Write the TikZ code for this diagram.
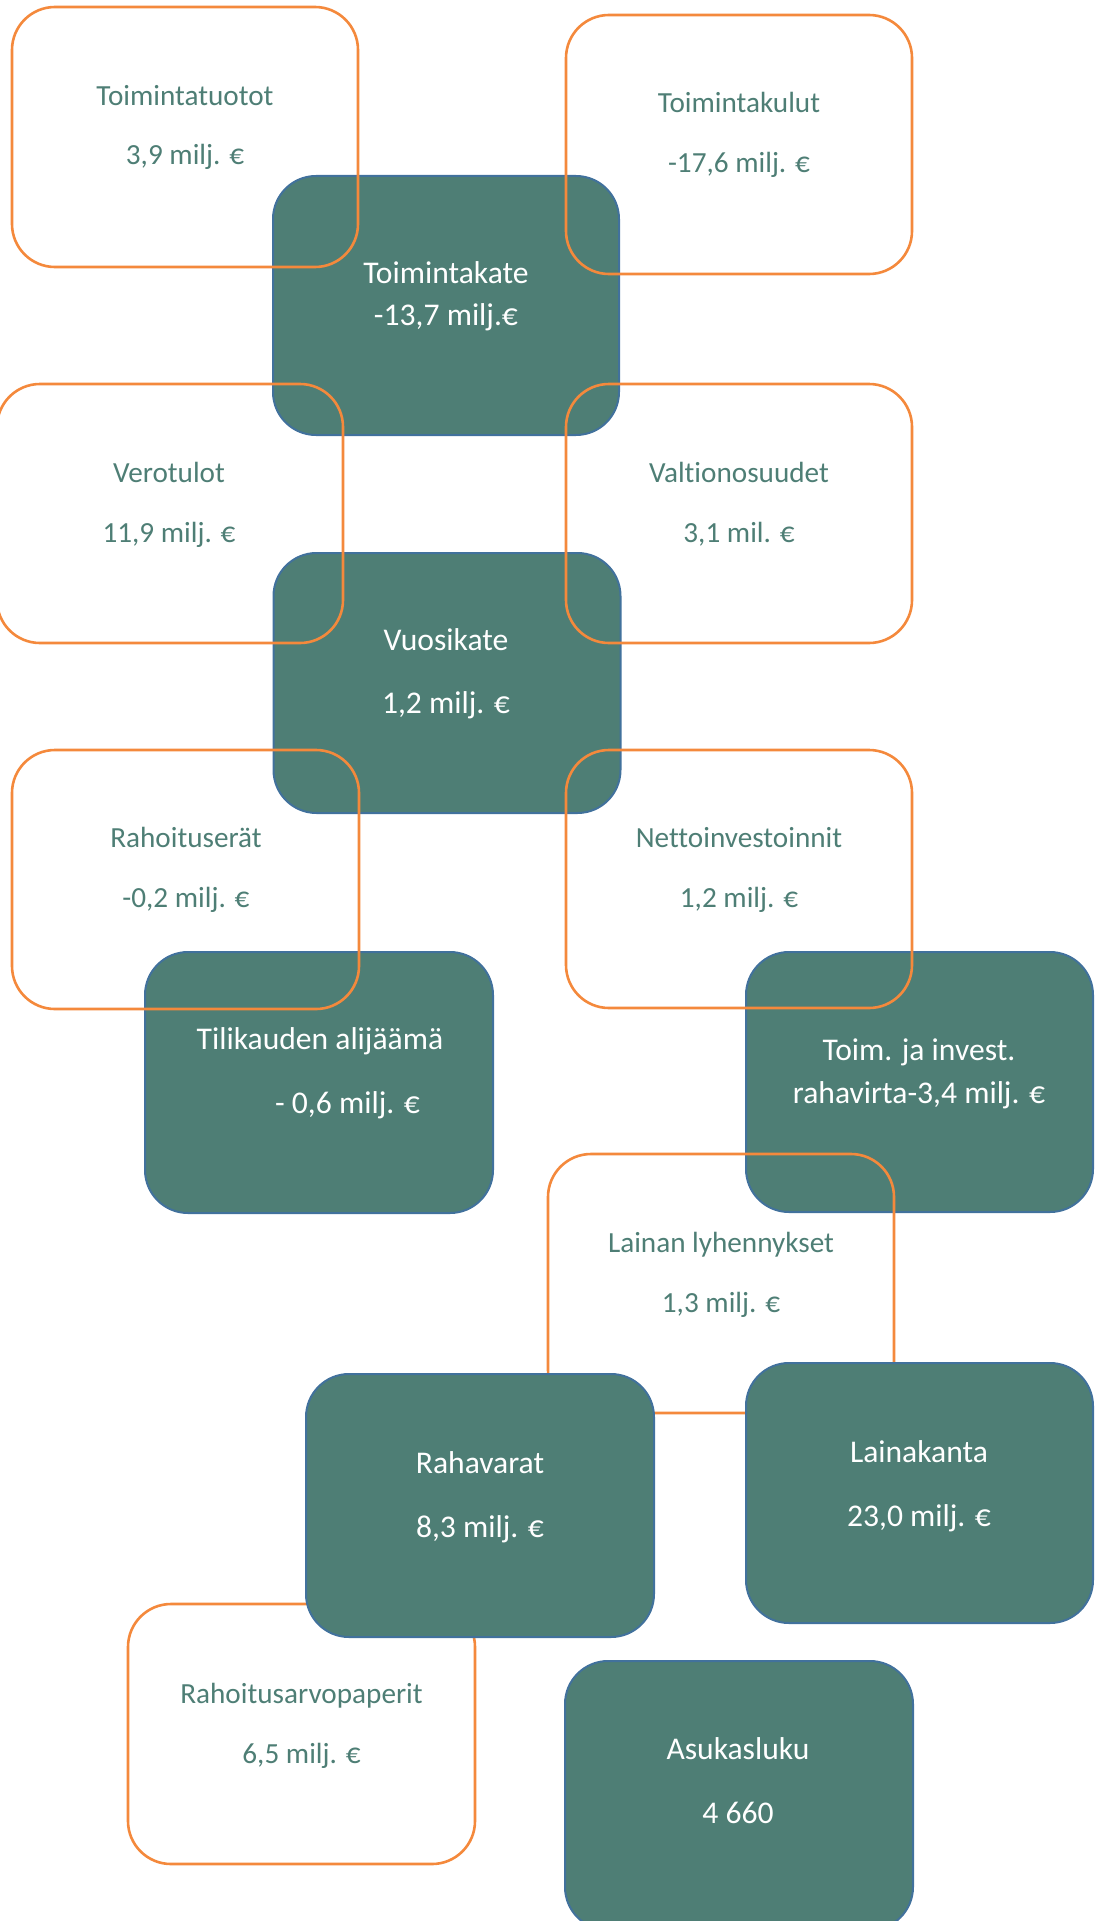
\documentclass[tikz,border=0pt]{standalone}
\usepackage{fontspec}
\setmainfont{Carlito}[Ligatures={NoCommon,NoRare,NoDiscretionary}]
\definecolor{tealfill}{HTML}{4E7E75}
\definecolor{tealborder}{HTML}{41719C}
\definecolor{orangeline}{HTML}{F4893C}
\definecolor{tealtext}{HTML}{4E7E75}
\tikzset{
  darkbox/.style={rectangle, rounded corners=43pt, fill=tealfill, draw=tealborder, line width=2pt, inner sep=0pt, outer sep=0pt},
  orangebox/.style={rectangle, rounded corners=43pt, draw=orangeline, line width=2.6pt, inner sep=0pt, outer sep=0pt},
  sz/.style 2 args={minimum width=#1pt, minimum height=#2pt},
  otext/.style={anchor=base, text=tealtext, font=\fontsize{29.2}{35}\selectfont, inner sep=0pt},
  wtext/.style={anchor=base, text=white, font=\fontsize{31.6}{38}\selectfont, inner sep=0pt},
}
\begin{document}
\begin{tikzpicture}[x=1pt, y=-1pt]
\useasboundingbox (0,0) rectangle (1096,1921);
% dark boxes underneath the orange outlines
\node[darkbox, sz={346}{259}] (kate) at (446,305.5) {};
\node[darkbox, sz={347}{260}] (vuosi) at (447,683) {};
\node[darkbox, sz={348}{261}] (tili) at (319,1082.5) {};
\node[darkbox, sz={347}{260}] (rahav) at (919.5,1082) {};
\node[darkbox, sz={348}{269}] (asuk) at (739,1795.5) {};
% orange outlined boxes
\node[orangebox, sz={346}{260}] (tuotot) at (185,137) {};
\node[orangebox, sz={346}{259}] (kulut) at (739,144.5) {};
\node[orangebox, sz={346}{259}] (vero) at (170,513.5) {};
\node[orangebox, sz={346}{259}] (valtio) at (739,513.5) {};
\node[orangebox, sz={347}{259}] (rahoit) at (185.5,879.5) {};
\node[orangebox, sz={346}{258}] (netto) at (739,879) {};
\node[orangebox, sz={346}{259}] (laina) at (721,1283.5) {};
\node[orangebox, sz={347}{260}] (arvo) at (301.5,1734) {};
% dark boxes on top
\node[darkbox, sz={348}{263}] (varat) at (480,1505.5) {};
\node[darkbox, sz={347}{260}] (kanta) at (919.5,1493) {};
% texts
\node[otext] (tuotot-a) at (185,106) {Toimintatuotot};
\node[otext] (tuotot-b) at (185,165) {3,9 milj. €};
\node[otext] (kulut-a) at (739,113) {Toimintakulut};
\node[otext] (kulut-b) at (739,173) {-17,6 milj. €};
\node[wtext] (kate-a) at (446,283) {Toimintakate};
\node[wtext] (kate-b) at (446,325) {-13,7 milj.€};
\node[otext] (vero-a) at (169,482) {Verotulot};
\node[otext] (vero-b) at (169,542) {11,9 milj. €};
\node[otext] (valtio-a) at (739,482) {Valtionosuudet};
\node[otext] (valtio-b) at (739,542) {3,1 mil. €};
\node[wtext] (vuosi-a) at (446,650) {Vuosikate};
\node[wtext] (vuosi-b) at (446,713) {1,2 milj. €};
\node[otext] (rahoit-a) at (186,847) {Rahoituserät};
\node[otext] (rahoit-b) at (186,907) {-0,2 milj. €};
\node[otext] (netto-a) at (739,847) {Nettoinvestoinnit};
\node[otext] (netto-b) at (739,907) {1,2 milj. €};
\node[wtext] (tili-a) at (320,1049) {Tilikauden alijäämä};
\node[wtext] (tili-b) at (347.5,1113) {- 0,6 milj. €};
\node[wtext] (rahav-a) at (919,1060) {Toim. ja invest.};
\node[wtext] (rahav-b) at (919,1103) {rahavirta-3,4 milj. €};
\node[otext] (laina-a) at (721,1252) {Lainan lyhennykset};
\node[otext] (laina-b) at (721,1312) {1,3 milj. €};
\node[wtext] (varat-a) at (480,1473) {Rahavarat};
\node[wtext] (varat-b) at (480,1537) {8,3 milj. €};
\node[wtext] (kanta-a) at (919,1462) {Lainakanta};
\node[wtext] (kanta-b) at (919,1526) {23,0 milj. €};
\node[otext] (arvo-a) at (301.5,1703) {Rahoitusarvopaperit};
\node[otext] (arvo-b) at (301.5,1763) {6,5 milj. €};
\node[wtext] (asuk-a) at (738,1759) {Asukasluku};
\node[wtext] (asuk-b) at (738,1823) {4 660};
\end{tikzpicture}
\end{document}
